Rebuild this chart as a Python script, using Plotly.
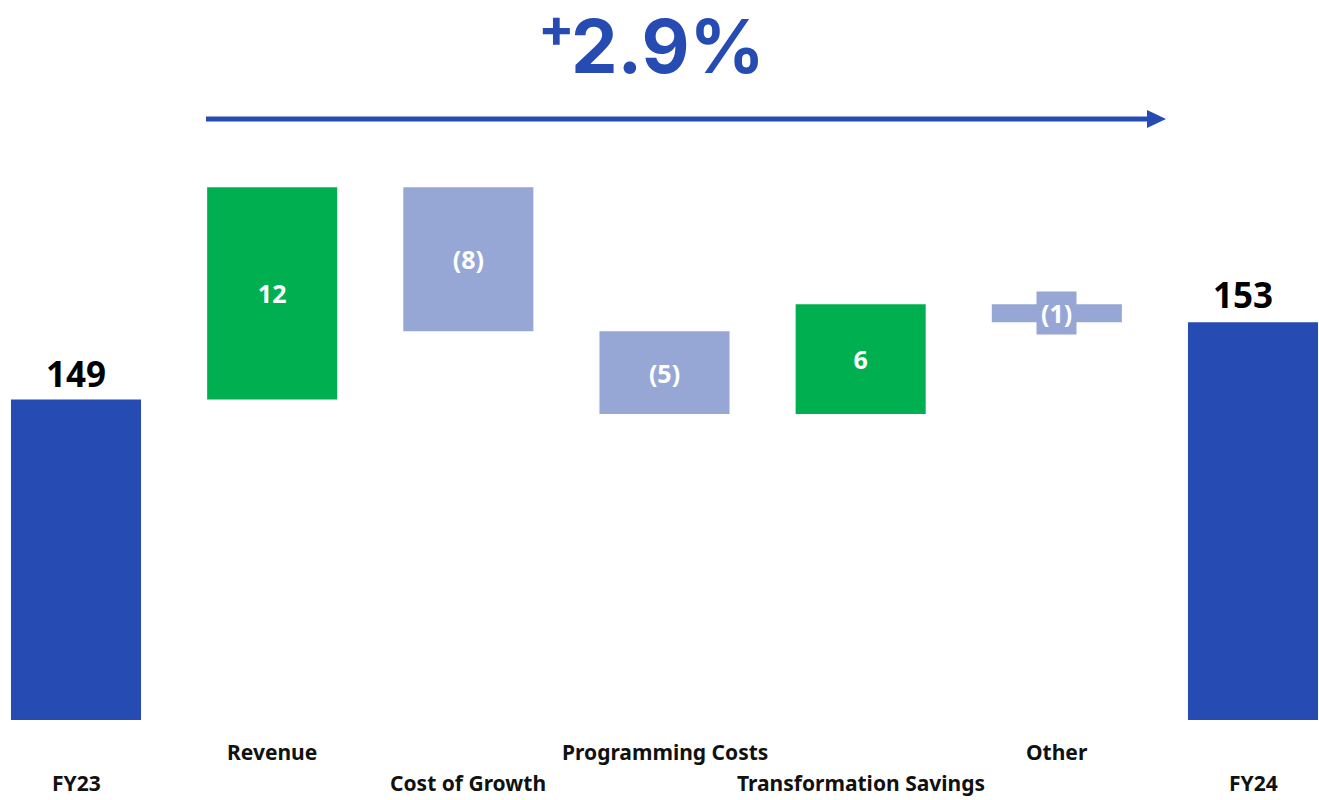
import plotly.graph_objects as go

categories = ["FY23", "Revenue", "Cost of Growth", "Programming Costs",
              "Transformation Savings", "Other", "FY24"]
values = [149.2, 11.8, -8.0, -4.6, 6.1, -1.0, 0]
measures = ["absolute", "relative", "relative", "relative", "relative", "relative", "total"]
value_labels = ["149", "12", "(8)", "(5)", "6", "(1)", "153"]
label_rows = [1, 0, 1, 0, 1, 0, 1]  # 0 = upper row, 1 = lower row
growth_label = "2.9%"

BLUE = "#264BB3"
GREEN = "#00B050"
LILAC = "#97A7D5"
FONT = "Noto Sans"

W, H = 1319, 800
PLOT_H = 720


def px(x):
    return x / W


def py(y):
    return 1 - y / PLOT_H


x_idx = list(range(len(categories)))
bar_text = [t if m == "relative" and i != 5 else "" for i, (t, m) in enumerate(zip(value_labels, measures))]
bar_text[0] = value_labels[0]
textpos = ["outside" if m != "relative" else "inside" for m in measures]
textpos[5] = "none"
textpos[6] = "none"

fig = go.Figure(go.Waterfall(
    x=x_idx, y=values, measure=measures,
    text=bar_text, textposition=textpos,
    insidetextanchor="middle",
    insidetextfont=dict(family=FONT, size=25, color="white", weight="bold"),
    outsidetextfont=dict(family=FONT, size=35, color="black", weight="bold"),
    increasing=dict(marker=dict(color=GREEN)),
    decreasing=dict(marker=dict(color=LILAC)),
    totals=dict(marker=dict(color=BLUE)),
    connector=dict(visible=False),
    width=0.663,
    cliponaxis=False,
    textangle=0,
))

cum = 0
for v, m in zip(values[:6], measures[:6]):
    cum = v if m == "absolute" else cum + v
other_mid = cum - values[5] / 2
total = cum

annotations = []
for i, (c, r) in enumerate(zip(categories, label_rows)):
    annotations.append(dict(x=i, xref="x", y=py(752 if r == 0 else 783), yref="paper",
                            text=c, showarrow=False, yanchor="middle",
                            font=dict(family=FONT, size=21, color="#111111", weight="bold")))
annotations.append(dict(x=5, xref="x", y=other_mid, yref="y", text=value_labels[5], showarrow=False,
                        bgcolor=LILAC, borderpad=4,
                        font=dict(family=FONT, size=25, color="white", weight="bold")))
annotations.append(dict(x=6, xref="x", y=total, yref="y", text=value_labels[6], showarrow=False,
                        yanchor="bottom", xshift=-10, yshift=2,
                        font=dict(family=FONT, size=35, color="black", weight="bold")))
annotations.append(dict(x=px(668), xref="paper", y=py(46), yref="paper", text=growth_label,
                        showarrow=False, yanchor="middle", xanchor="center",
                        font=dict(family="Inter", size=74, color=BLUE, weight="bold")))
annotations.append(dict(x=px(556), xref="paper", y=py(28), yref="paper", text="+",
                        showarrow=False, yanchor="middle", xanchor="center",
                        font=dict(family="Inter", size=54, color=BLUE, weight="bold")))

shapes = [
    dict(type="line", xref="paper", yref="paper", x0=px(206), x1=px(1150),
         y0=py(119), y1=py(119), line=dict(color=BLUE, width=5)),
    dict(type="path", xref="paper", yref="paper",
         path=f"M {px(1147)} {py(110)} L {px(1166)} {py(119)} L {px(1147)} {py(128)} Z",
         fillcolor=BLUE, line=dict(width=0)),
]

x0 = -76 / 196.17
x1 = 6 + (W - 1253) / 196.17

fig.update_layout(
    width=W, height=H,
    margin=dict(l=0, r=0, t=0, b=H - PLOT_H),
    plot_bgcolor="white", paper_bgcolor="white",
    showlegend=False,
    xaxis=dict(range=[x0, x1], showticklabels=False, showgrid=False, zeroline=False,
               showline=False, ticks=""),
    yaxis=dict(range=[131.4, 131.4 + PLOT_H / 18], visible=False, showgrid=False),
    annotations=annotations, shapes=shapes,
    uniformtext=dict(mode=False),
)

fig.write_html("out.html", config={"displayModeBar": False},
               post_script="document.body.style.margin='0';document.body.style.overflow='hidden';")
